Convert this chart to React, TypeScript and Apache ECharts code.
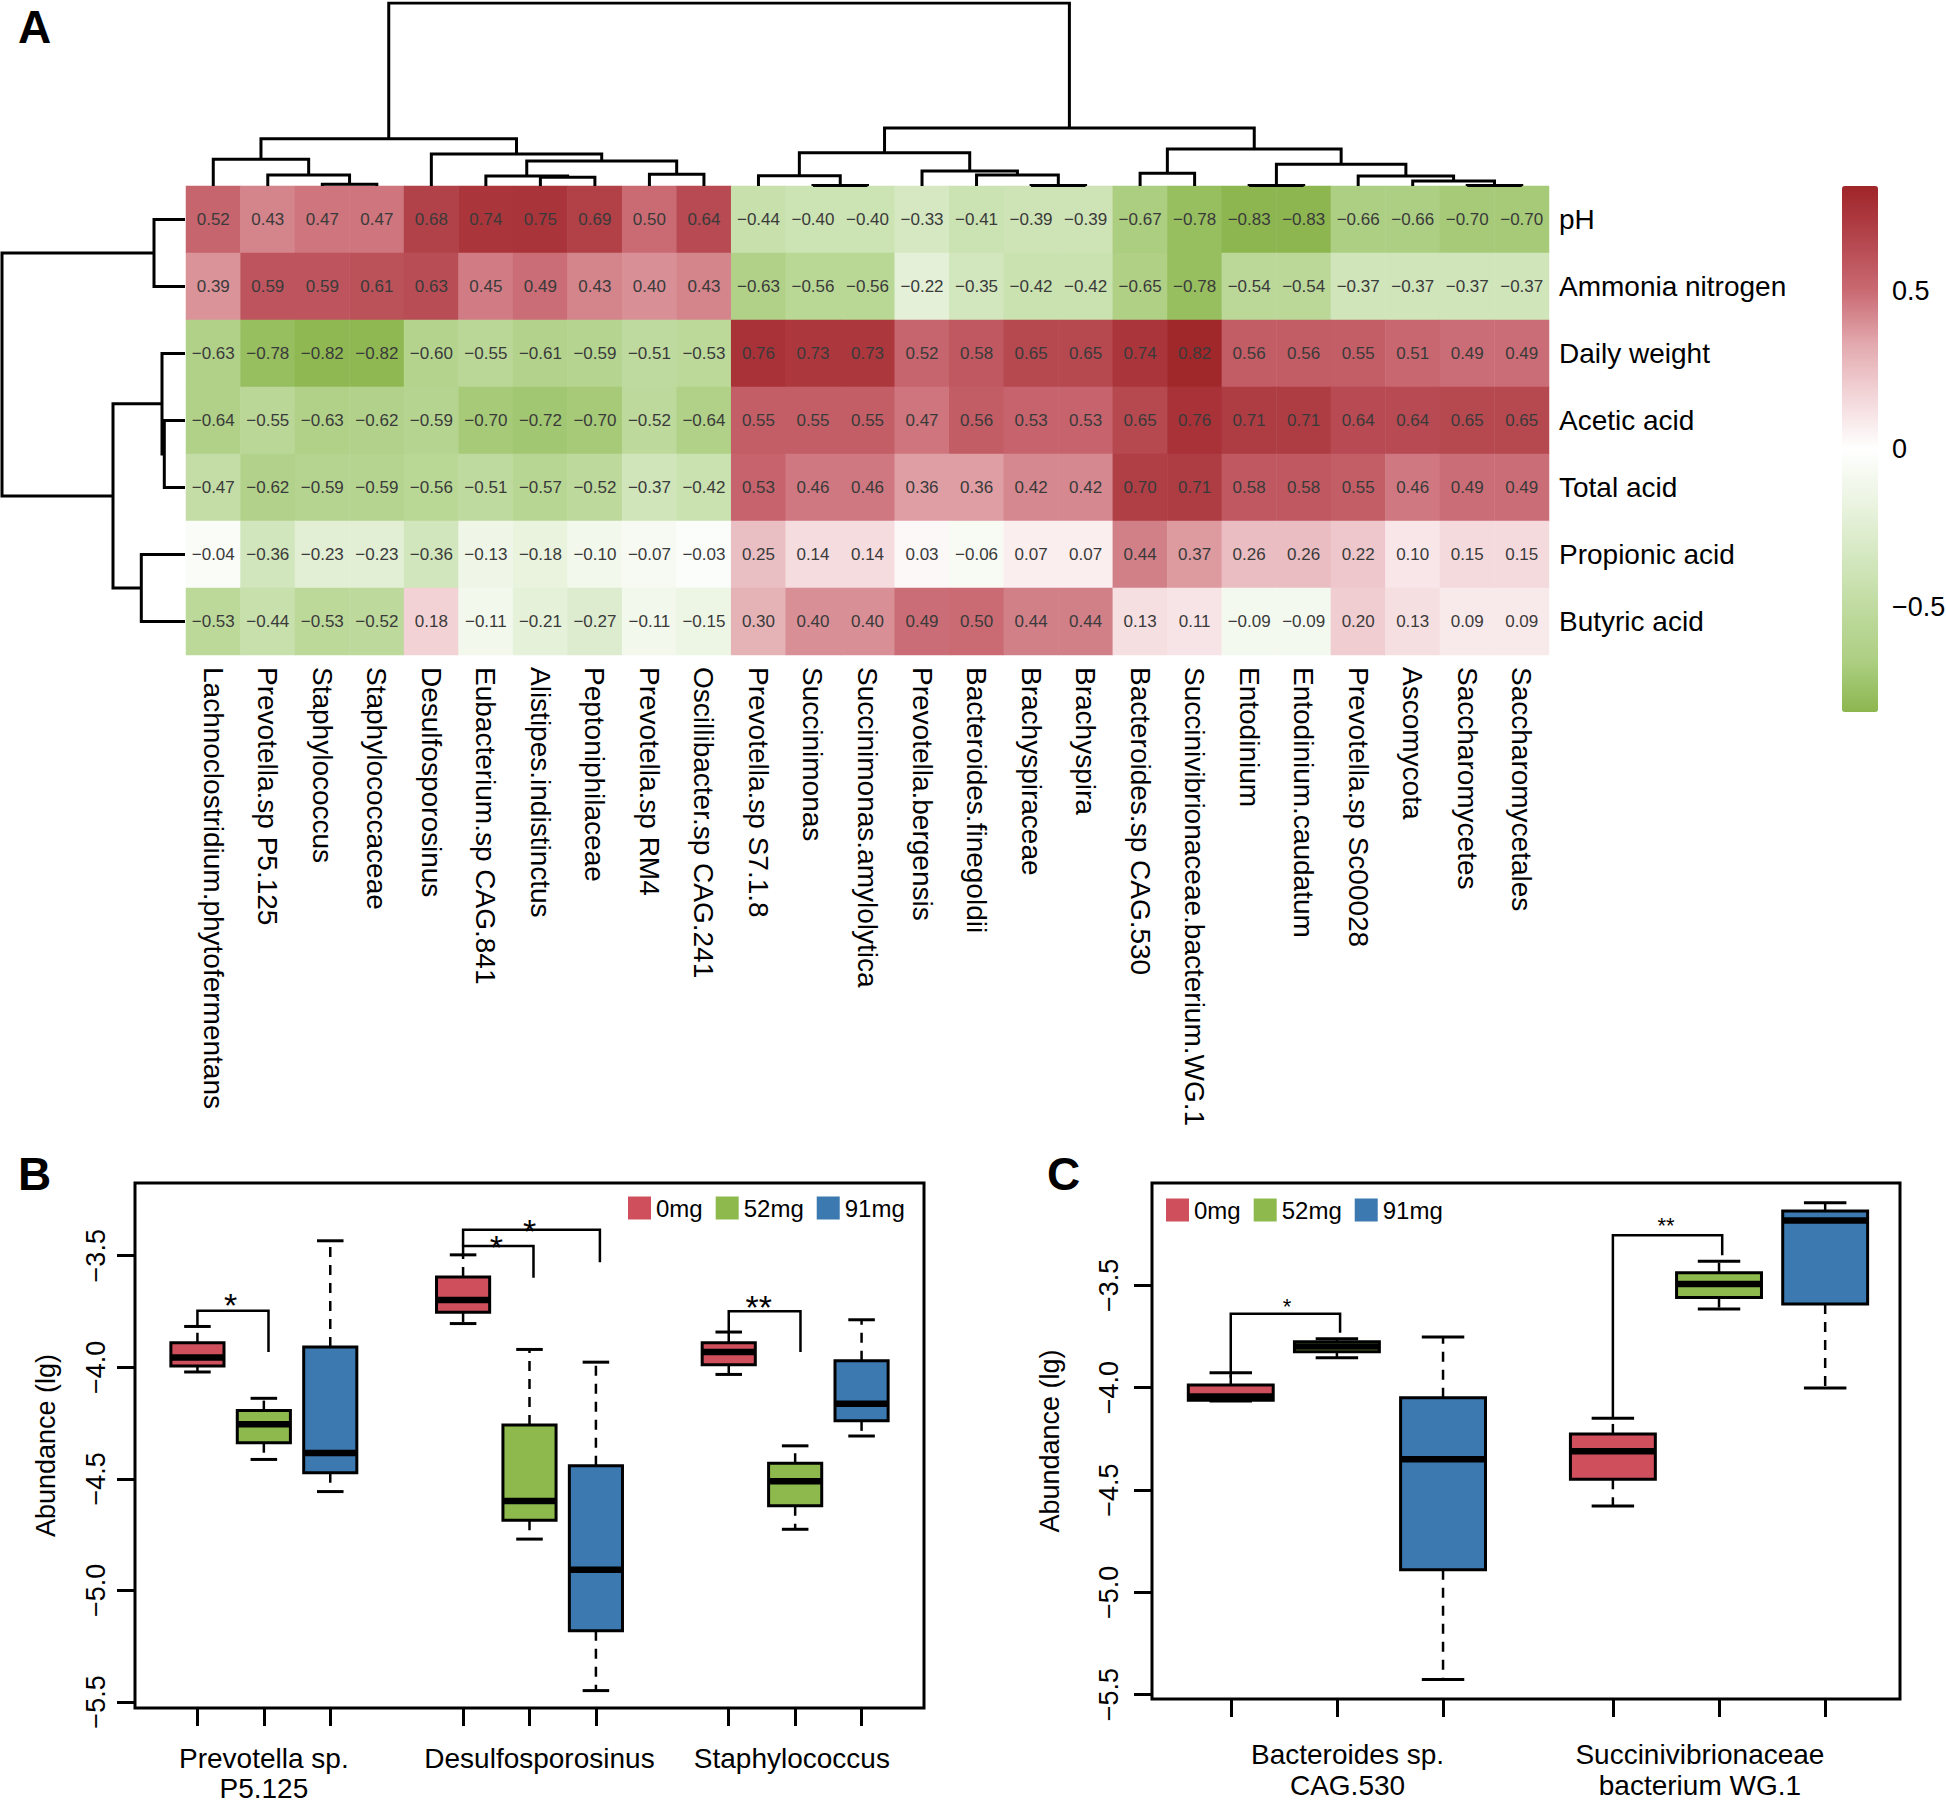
import React, { useEffect, useRef } from "react";
import * as echarts from "echarts";

const FONT = '"Liberation Sans", Arial, Helvetica, sans-serif';

// ---------- Panel A: correlation heatmap ----------
const colNames = [
  "Lachnoclostridium.phytofermentans", "Prevotella.sp P5.125", "Staphylococcus", "Staphylococcaceae",
  "Desulfosporosinus", "Eubacterium.sp CAG.841", "Alistipes.indistinctus", "Peptoniphilaceae",
  "Prevotella.sp RM4", "Oscillibacter.sp CAG.241", "Prevotella.sp S7.1.8", "Succinimonas",
  "Succinimonas.amylolytica", "Prevotella.bergensis", "Bacteroides.finegoldii", "Brachyspiraceae",
  "Brachyspira", "Bacteroides.sp CAG.530", "Succinivibrionaceae.bacterium.WG.1", "Entodinium",
  "Entodinium.caudatum", "Prevotella.sp Sc00028", "Ascomycota", "Saccharomycetes", "Saccharomycetales",
];
const rowNames = ["pH", "Ammonia nitrogen", "Daily weight", "Acetic acid", "Total acid", "Propionic acid", "Butyric acid"];

const corrPH = [0.52, 0.43, 0.47, 0.47, 0.68, 0.74, 0.75, 0.69, 0.50, 0.64, -0.44, -0.40, -0.40, -0.33, -0.41, -0.39, -0.39, -0.67, -0.78, -0.83, -0.83, -0.66, -0.66, -0.70, -0.70];
const corrAmmonia = [0.39, 0.59, 0.59, 0.61, 0.63, 0.45, 0.49, 0.43, 0.40, 0.43, -0.63, -0.56, -0.56, -0.22, -0.35, -0.42, -0.42, -0.65, -0.78, -0.54, -0.54, -0.37, -0.37, -0.37, -0.37];
const corrDailyWeight = [-0.63, -0.78, -0.82, -0.82, -0.60, -0.55, -0.61, -0.59, -0.51, -0.53, 0.76, 0.73, 0.73, 0.52, 0.58, 0.65, 0.65, 0.74, 0.82, 0.56, 0.56, 0.55, 0.51, 0.49, 0.49];
const corrAcetic = [-0.64, -0.55, -0.63, -0.62, -0.59, -0.70, -0.72, -0.70, -0.52, -0.64, 0.55, 0.55, 0.55, 0.47, 0.56, 0.53, 0.53, 0.65, 0.76, 0.71, 0.71, 0.64, 0.64, 0.65, 0.65];
const corrTotal = [-0.47, -0.62, -0.59, -0.59, -0.56, -0.51, -0.57, -0.52, -0.37, -0.42, 0.53, 0.46, 0.46, 0.36, 0.36, 0.42, 0.42, 0.70, 0.71, 0.58, 0.58, 0.55, 0.46, 0.49, 0.49];
const corrPropionic = [-0.04, -0.36, -0.23, -0.23, -0.36, -0.13, -0.18, -0.10, -0.07, -0.03, 0.25, 0.14, 0.14, 0.03, -0.06, 0.07, 0.07, 0.44, 0.37, 0.26, 0.26, 0.22, 0.10, 0.15, 0.15];
const corrButyric = [-0.53, -0.44, -0.53, -0.52, 0.18, -0.11, -0.21, -0.27, -0.11, -0.15, 0.30, 0.40, 0.40, 0.49, 0.50, 0.44, 0.44, 0.13, 0.11, -0.09, -0.09, 0.20, 0.13, 0.09, 0.09];
const corrRows = [corrPH, corrAmmonia, corrDailyWeight, corrAcetic, corrTotal, corrPropionic, corrButyric];

const colorScaleMin = -0.83;
const colorScaleMax = 0.83;
const colorScaleTicks = [0.5, 0, -0.5];
const colorRamp = ["#8DB650", "#ADCF83", "#C0DBA0", "#D5E8C2", "#EBF4E1", "#FFFFFF", "#F3D6D9", "#E2A9AE", "#CA6A73", "#B4454D", "#9F2528"];

// dendrograms: [left, right, height]; negative = leaf (1-based), positive = earlier merge (1-based)
const colMerges = [
  [-3, -4, 0.017], [-2, 1, 0.11], [-1, 2, 0.267], [-7, -8, 0.087], [-6, 4, 0.10], [-9, -10, 0.117],
  [5, 6, 0.25], [-5, 7, 0.32], [3, 8, 0.473], [-12, -13, 0.005], [-11, 10, 0.103], [-16, -17, 0.005],
  [-15, 12, 0.11], [-14, 13, 0.15], [11, 14, 0.333], [-18, -19, 0.127], [-20, -21, 0.005], [-24, -25, 0.005],
  [-23, 18, 0.05], [-22, 19, 0.10], [17, 20, 0.217], [16, 21, 0.37], [15, 22, 0.58], [9, 23, 1.833],
];
const rowMerges = [
  [-4, -5, 0.207], [-3, 1, 0.23], [-1, -2, 0.31], [-6, -7, 0.437], [2, 4, 0.72], [3, 5, 1.83],
];

// ---------- Panels B & C: box plots ----------
const doses = ["0mg", "52mg", "91mg"];
const doseColors = ["#CF4F5C", "#8EBA4D", "#3B79B0"];
const yTicks = [-5.5, -5.0, -4.5, -4.0, -3.5];

const bGroups = ["Prevotella sp.\nP5.125", "Desulfosporosinus", "Staphylococcus"];
const bGroupLabelPos = [2.0, 6.15, 9.95];
const bTickPos = [1, 2, 3, 5, 6, 7, 9, 10, 11];
const bPositions = [[1, 5, 9], [2, 6, 10], [3, 7, 11]];
// [low whisker, Q1, median, Q3, high whisker]
const b0mg = [[-4.021, -3.994, -3.956, -3.890, -3.817], [-3.804, -3.753, -3.698, -3.595, -3.496], [-4.032, -3.989, -3.932, -3.890, -3.842]];
const b52mg = [[-4.413, -4.338, -4.255, -4.194, -4.139], [-4.770, -4.686, -4.599, -4.259, -3.920], [-4.726, -4.620, -4.511, -4.430, -4.352]];
const b91mg = [[-4.557, -4.473, -4.384, -3.909, -3.433], [-5.449, -5.181, -4.907, -4.441, -3.977], [-4.308, -4.240, -4.163, -3.971, -3.787]];
// [x left, x right, y top, y left end, y right end, star x, star y]
const bBrackets = [
  [1, 2.07, -3.747, -3.817, -3.932, 1.5, -3.684],
  [5, 6.06, -3.456, -3.496, -3.599, 5.5, -3.428],
  [5, 7.06, -3.384, -3.456, -3.529, 6.0, -3.354],
  [9, 10.08, -3.749, -3.842, -3.932, 9.45, -3.694],
];
const bStars = ["*", "*", "*", "**"];

const cGroups = ["Bacteroides sp.\nCAG.530", "Succinivibrionaceae\nbacterium WG.1"];
const cGroupLabelPos = [2.1, 5.42];
const cTickPos = [1, 2, 3, 4.6, 5.6, 6.6];
const cPositions = [[1, 4.6], [2, 5.6], [3, 6.6]];
const c0mg = [[-4.065, -4.062, -4.043, -3.987, -3.927], [-4.578, -4.447, -4.311, -4.226, -4.149]];
const c52mg = [[-3.854, -3.825, -3.799, -3.776, -3.761], [-3.616, -3.560, -3.494, -3.438, -3.382]];
const c91mg = [[-5.426, -4.889, -4.350, -4.049, -3.753], [-4.002, -3.591, -3.183, -3.137, -3.096]];
const cBrackets = [
  [1, 2.03, -3.639, -3.95, -3.732, 1.53, -3.577],
  [4.6, 5.63, -3.255, -4.149, -3.353, 5.1, -3.183],
];
const cStars = ["*", "**"];

// ---------- helpers ----------
const minus = (v: number, d: number) => (v < 0 ? "\u2212" : "") + Math.abs(v).toFixed(d);

function buildDendro(merges: number[][]) {
  const pos: number[] = [];
  const hts: number[] = [];
  const segs: number[][][] = [];
  merges.forEach(([a, b, h]) => {
    const pa = a < 0 ? -a - 1 : pos[a - 1];
    const ha = a < 0 ? 0 : hts[a - 1];
    const pb = b < 0 ? -b - 1 : pos[b - 1];
    const hb = b < 0 ? 0 : hts[b - 1];
    pos.push((pa + pb) / 2);
    hts.push(h);
    segs.push([[pa, ha], [pa, h], [pb, h], [pb, hb]]);
  });
  return segs;
}

function boxRenderItem(params: any, api: any) {
  const x = api.value(0);
  const [cx, yLo] = api.coord([x, api.value(1)]);
  const yQ1 = api.coord([x, api.value(2)])[1];
  const yMed = api.coord([x, api.value(3)])[1];
  const yQ3 = api.coord([x, api.value(4)])[1];
  const yHi = api.coord([x, api.value(5)])[1];
  const half = api.size([0.4, 0])[0];
  const cap = api.size([0.2, 0])[0];
  const color = api.visual("color");
  const dash = { stroke: "#000", lineWidth: 2.5, lineDash: [10, 8] };
  const solid = { stroke: "#000", lineWidth: 3 };
  return {
    type: "group",
    children: [
      { type: "line", shape: { x1: cx, y1: yQ3, x2: cx, y2: yHi }, style: dash },
      { type: "line", shape: { x1: cx, y1: yQ1, x2: cx, y2: yLo }, style: dash },
      { type: "line", shape: { x1: cx - cap, y1: yHi, x2: cx + cap, y2: yHi }, style: solid },
      { type: "line", shape: { x1: cx - cap, y1: yLo, x2: cx + cap, y2: yLo }, style: solid },
      { type: "rect", shape: { x: cx - half, y: yQ3, width: 2 * half, height: yQ1 - yQ3 }, style: { fill: color, stroke: "#000", lineWidth: 3 } },
      { type: "line", shape: { x1: cx - half, y1: yMed, x2: cx + half, y2: yMed }, style: { stroke: "#000", lineWidth: 6.5 } },
    ],
  };
}

function bracketRenderItem(stars: string[], fontSize: number) {
  return (params: any, api: any) => {
    const x1 = api.value(0), x2 = api.value(1), yt = api.value(2), yl = api.value(3), yr = api.value(4);
    const p1 = api.coord([x1, yl]);
    const p2 = api.coord([x1, yt]);
    const p3 = api.coord([x2, yt]);
    const p4 = api.coord([x2, yr]);
    const s = api.coord([api.value(5), api.value(6)]);
    return {
      type: "group",
      children: [
        { type: "polyline", shape: { points: [p1, p2, p3, p4] }, style: { stroke: "#000", lineWidth: 2.5, fill: "none" } },
        {
          type: "text",
          x: s[0],
          y: s[1] + fontSize * 0.23,
          style: { text: stars[params.dataIndex], fontSize, fontFamily: FONT, fill: "#000", align: "center", verticalAlign: "middle" },
        },
      ],
    };
  };
}

function boxSeries(name: string, color: string, stats: number[][], positions: number[], axisIndex: number) {
  return {
    type: "custom",
    name,
    xAxisIndex: axisIndex,
    yAxisIndex: axisIndex,
    itemStyle: { color },
    encode: { x: 0, y: [1, 2, 3, 4, 5] },
    data: stats.map((s, i) => [positions[i], ...s]),
    renderItem: boxRenderItem,
    silent: true,
  };
}

function boxXAxis(gridIndex: number, min: number, max: number, ticks: number[], labelPos: number[], labels: string[], margin: number, lineHeight: number) {
  return {
    gridIndex,
    type: "value",
    min,
    max,
    axisLine: { show: false },
    splitLine: { show: false },
    axisTick: { show: true, length: 18, lineStyle: { color: "#000", width: 3 }, customValues: ticks },
    axisLabel: {
      customValues: labelPos,
      formatter: (v: number) => {
        const i = labelPos.findIndex((p) => Math.abs(p - v) < 1e-6);
        return i >= 0 ? labels[i] : "";
      },
      fontSize: 28,
      fontFamily: FONT,
      color: "#000",
      margin,
      lineHeight,
    },
  };
}

function boxYAxis(gridIndex: number, min: number, max: number, margin: number, nameGap: number) {
  return {
    gridIndex,
    type: "value",
    min,
    max,
    axisLine: { show: false },
    splitLine: { show: false },
    axisTick: { show: true, length: 18, lineStyle: { color: "#000", width: 3 }, customValues: yTicks },
    axisLabel: {
      customValues: yTicks,
      rotate: 90,
      formatter: (v: number) => minus(v, 1),
      fontSize: 27,
      fontFamily: FONT,
      color: "#000",
      margin,
    },
    name: "Abundance (lg)",
    nameLocation: "middle",
    nameGap,
    nameTextStyle: { fontSize: 27, fontFamily: FONT, color: "#000" },
  };
}

function buildOption() {
  const heatData: number[][] = [];
  corrRows.forEach((row, r) => row.forEach((v, c) => heatData.push([c, r, v])));

  const topSegs = buildDendro(colMerges);
  const rowSegs = buildDendro(rowMerges).map((seg) => seg.map(([p, h]) => [h, p]));

  const cbTop = 186;
  const cbHeight = 526;
  const cbLeft = 1842;

  const legendCommon = {
    data: doses,
    icon: "rect",
    itemWidth: 23,
    itemHeight: 23,
    itemGap: 13,
    padding: 0,
    orient: "horizontal",
    selectedMode: false,
    itemStyle: { borderWidth: 0 },
    textStyle: { fontSize: 24, fontFamily: FONT, color: "#000" },
  };

  const letterStyle = { fontSize: 46, fontWeight: "bold", fontFamily: FONT, fill: "#000", verticalAlign: "top" };

  return {
    animation: false,
    backgroundColor: "#fff",
    textStyle: { fontFamily: FONT },
    grid: [
      { left: 186, top: 186, width: 1363, height: 469, outerBoundsMode: "none" },
      { left: 186, top: 3, width: 1363, height: 183, outerBoundsMode: "none" },
      { left: 2, top: 186, width: 183, height: 469, outerBoundsMode: "none" },
      { left: 135, top: 1183, width: 789, height: 525, show: true, borderColor: "#000", borderWidth: 3, backgroundColor: "transparent", outerBoundsMode: "none" },
      { left: 1152, top: 1183, width: 748, height: 516, show: true, borderColor: "#000", borderWidth: 3, backgroundColor: "transparent", outerBoundsMode: "none" },
    ],
    xAxis: [
      {
        gridIndex: 0,
        type: "category",
        data: colNames,
        position: "bottom",
        axisLine: { show: false },
        axisTick: { show: false },
        splitLine: { show: false },
        axisLabel: { interval: 0, rotate: -90, fontSize: 28, fontFamily: FONT, color: "#000", margin: 12 },
      },
      { gridIndex: 1, type: "value", min: -0.5, max: 24.5, show: false },
      { gridIndex: 2, type: "value", min: 0, max: 1.83, inverse: true, show: false },
      boxXAxis(3, 0.06, 11.94, bTickPos, bGroupLabelPos, bGroups, 35, 30),
      boxXAxis(4, 0.258, 7.305, cTickPos, cGroupLabelPos, cGroups, 40, 31),
    ],
    yAxis: [
      {
        gridIndex: 0,
        type: "category",
        data: rowNames,
        inverse: true,
        position: "right",
        axisLine: { show: false },
        axisTick: { show: false },
        splitLine: { show: false },
        axisLabel: { fontSize: 28, fontFamily: FONT, color: "#000", margin: 10 },
      },
      { gridIndex: 1, type: "value", min: 0, max: 1.833, show: false },
      { gridIndex: 2, type: "value", min: -0.5, max: 6.5, inverse: true, show: false },
      boxYAxis(3, -5.527, -3.174, 26, 76),
      boxYAxis(4, -5.521, -3.0, 30, 89),
    ],
    visualMap: {
      type: "continuous",
      seriesIndex: 0,
      min: colorScaleMin,
      max: colorScaleMax,
      calculable: false,
      hoverLink: false,
      show: true,
      orient: "vertical",
      left: cbLeft,
      top: cbTop,
      itemWidth: 36,
      itemHeight: cbHeight,
      padding: 0,
      inRange: { color: colorRamp },
    },
    legend: [
      { ...legendCommon, left: 628, top: 1196 },
      { ...legendCommon, left: 1166, top: 1198 },
    ],
    graphic: [
      { type: "text", x: 18, y: 4, style: { text: "A", ...letterStyle } },
      { type: "text", x: 18, y: 1151, style: { text: "B", ...letterStyle } },
      { type: "text", x: 1047, y: 1151, style: { text: "C", ...letterStyle } },
      ...colorScaleTicks.map((t) => ({
        type: "text",
        x: 1892,
        y: cbTop + ((colorScaleMax - t) / (colorScaleMax - colorScaleMin)) * cbHeight,
        style: { text: t === 0 ? "0" : minus(t, 1), fontSize: 27, fontFamily: FONT, fill: "#000", verticalAlign: "middle", align: "left" },
      })),
    ],
    series: [
      {
        type: "heatmap",
        xAxisIndex: 0,
        yAxisIndex: 0,
        data: heatData,
        itemStyle: { borderWidth: 0 },
        emphasis: { disabled: true },
        label: {
          show: true,
          fontSize: 17,
          fontFamily: FONT,
          color: "#3a3a3a",
          formatter: (p: any) => minus(p.value[2], 2),
        },
        silent: true,
      },
      {
        type: "lines",
        coordinateSystem: "cartesian2d",
        xAxisIndex: 1,
        yAxisIndex: 1,
        polyline: true,
        silent: true,
        lineStyle: { color: "#000", width: 3, opacity: 1 },
        data: topSegs.map((c) => ({ coords: c })),
      },
      {
        type: "lines",
        coordinateSystem: "cartesian2d",
        xAxisIndex: 2,
        yAxisIndex: 2,
        polyline: true,
        silent: true,
        lineStyle: { color: "#000", width: 3, opacity: 1 },
        data: rowSegs.map((c) => ({ coords: c })),
      },
      boxSeries(doses[0], doseColors[0], b0mg, bPositions[0], 3),
      boxSeries(doses[1], doseColors[1], b52mg, bPositions[1], 3),
      boxSeries(doses[2], doseColors[2], b91mg, bPositions[2], 3),
      {
        type: "custom",
        name: "sigB",
        xAxisIndex: 3,
        yAxisIndex: 3,
        encode: { x: [0, 1, 5], y: [2, 3, 4, 6] },
        data: bBrackets,
        renderItem: bracketRenderItem(bStars, 34),
        silent: true,
      },
      boxSeries(doses[0], doseColors[0], c0mg, cPositions[0], 4),
      boxSeries(doses[1], doseColors[1], c52mg, cPositions[1], 4),
      boxSeries(doses[2], doseColors[2], c91mg, cPositions[2], 4),
      {
        type: "custom",
        name: "sigC",
        xAxisIndex: 4,
        yAxisIndex: 4,
        encode: { x: [0, 1, 5], y: [2, 3, 4, 6] },
        data: cBrackets,
        renderItem: bracketRenderItem(cStars, 22),
        silent: true,
      },
    ],
  };
}

export default function App() {
  const ref = useRef<HTMLDivElement>(null);
  useEffect(() => {
    if (!ref.current) return;
    const chart = echarts.init(ref.current, null, { renderer: "svg" });
    chart.setOption(buildOption() as any);
    return () => chart.dispose();
  }, []);
  return (
    <div
      ref={ref}
      style={{ position: "fixed", left: 0, top: 0, width: 1946, height: 1805, background: "#fff" }}
    />
  );
}
